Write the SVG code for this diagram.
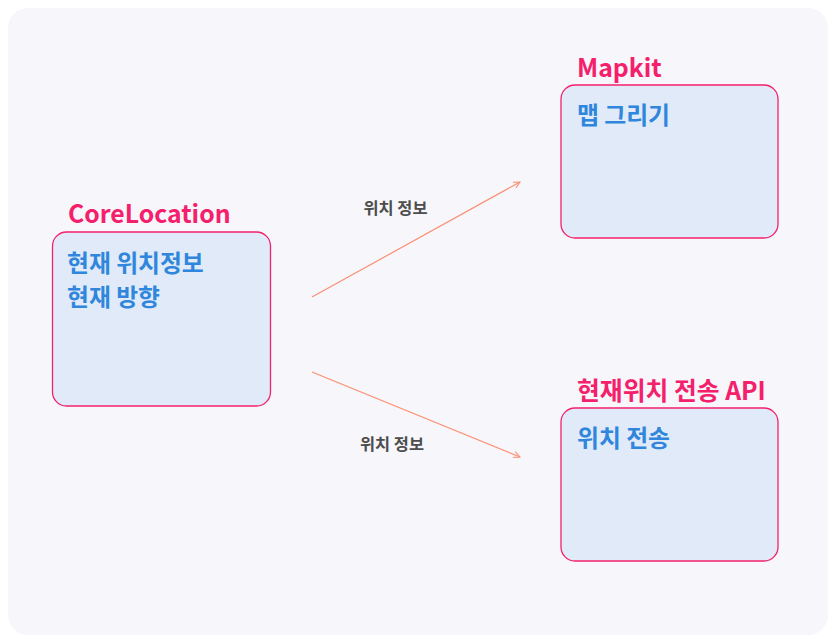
<svg xmlns="http://www.w3.org/2000/svg" width="836" height="643" viewBox="0 0 836 643">
<style>
.title{font-family:"Noto Sans CJK KR","Noto Sans",sans-serif;font-weight:700;font-size:24.8px;fill:#f4206b}
.body{font-family:"Noto Sans CJK KR","Noto Sans",sans-serif;font-weight:700;font-size:23.8px;fill:#2f86dc}
.box{fill:#e0eaf9;stroke:#f4206b;stroke-width:1.3}
.edge{fill:none;stroke:#fc8f72;stroke-width:1.2}
.elabel{font-family:"Noto Sans CJK KR","Noto Sans",sans-serif;font-weight:700;font-size:16.4px;fill:#4d4d4d}
</style>
<defs>
<marker id="arr" viewBox="0 0 10 10" refX="9" refY="5" markerWidth="8" markerHeight="8" markerUnits="userSpaceOnUse" orient="auto">
<path d="M1,1 L9,5 L1,9" fill="none" stroke="#fc8f72" stroke-width="1.3"/>
</marker>
</defs>
<rect x="0" y="0" width="836" height="643" fill="#ffffff"/>
<rect x="8" y="8" width="820" height="627" rx="20" fill="#f6f6fb"/>
<g id="edges">
<line class="edge" x1="312" y1="297" x2="520" y2="182" marker-end="url(#arr)"/>
<text class="elabel" x="395.5" y="214" text-anchor="middle">위치 정보</text>
<line class="edge" x1="312" y1="372" x2="520" y2="457" marker-end="url(#arr)"/>
<text class="elabel" x="392" y="450" text-anchor="middle">위치 정보</text>
</g>
<g id="corelocation">
<text class="title" x="68" y="223">CoreLocation</text>
<rect class="box" x="52.5" y="232" width="218" height="174" rx="14"/>
<text class="body" x="67" y="272">현재 위치정보</text>
<text class="body" x="67" y="306">현재 방향</text>
</g>
<g id="mapkit">
<text class="title" x="577" y="77">Mapkit</text>
<rect class="box" x="561" y="85" width="217" height="153" rx="14"/>
<text class="body" x="577" y="124">맵 그리기</text>
</g>
<g id="api">
<text class="title" x="577" y="400">현재위치 전송 API</text>
<rect class="box" x="561" y="408" width="217" height="153" rx="14"/>
<text class="body" x="577" y="447">위치 전송</text>
</g>
</svg>
